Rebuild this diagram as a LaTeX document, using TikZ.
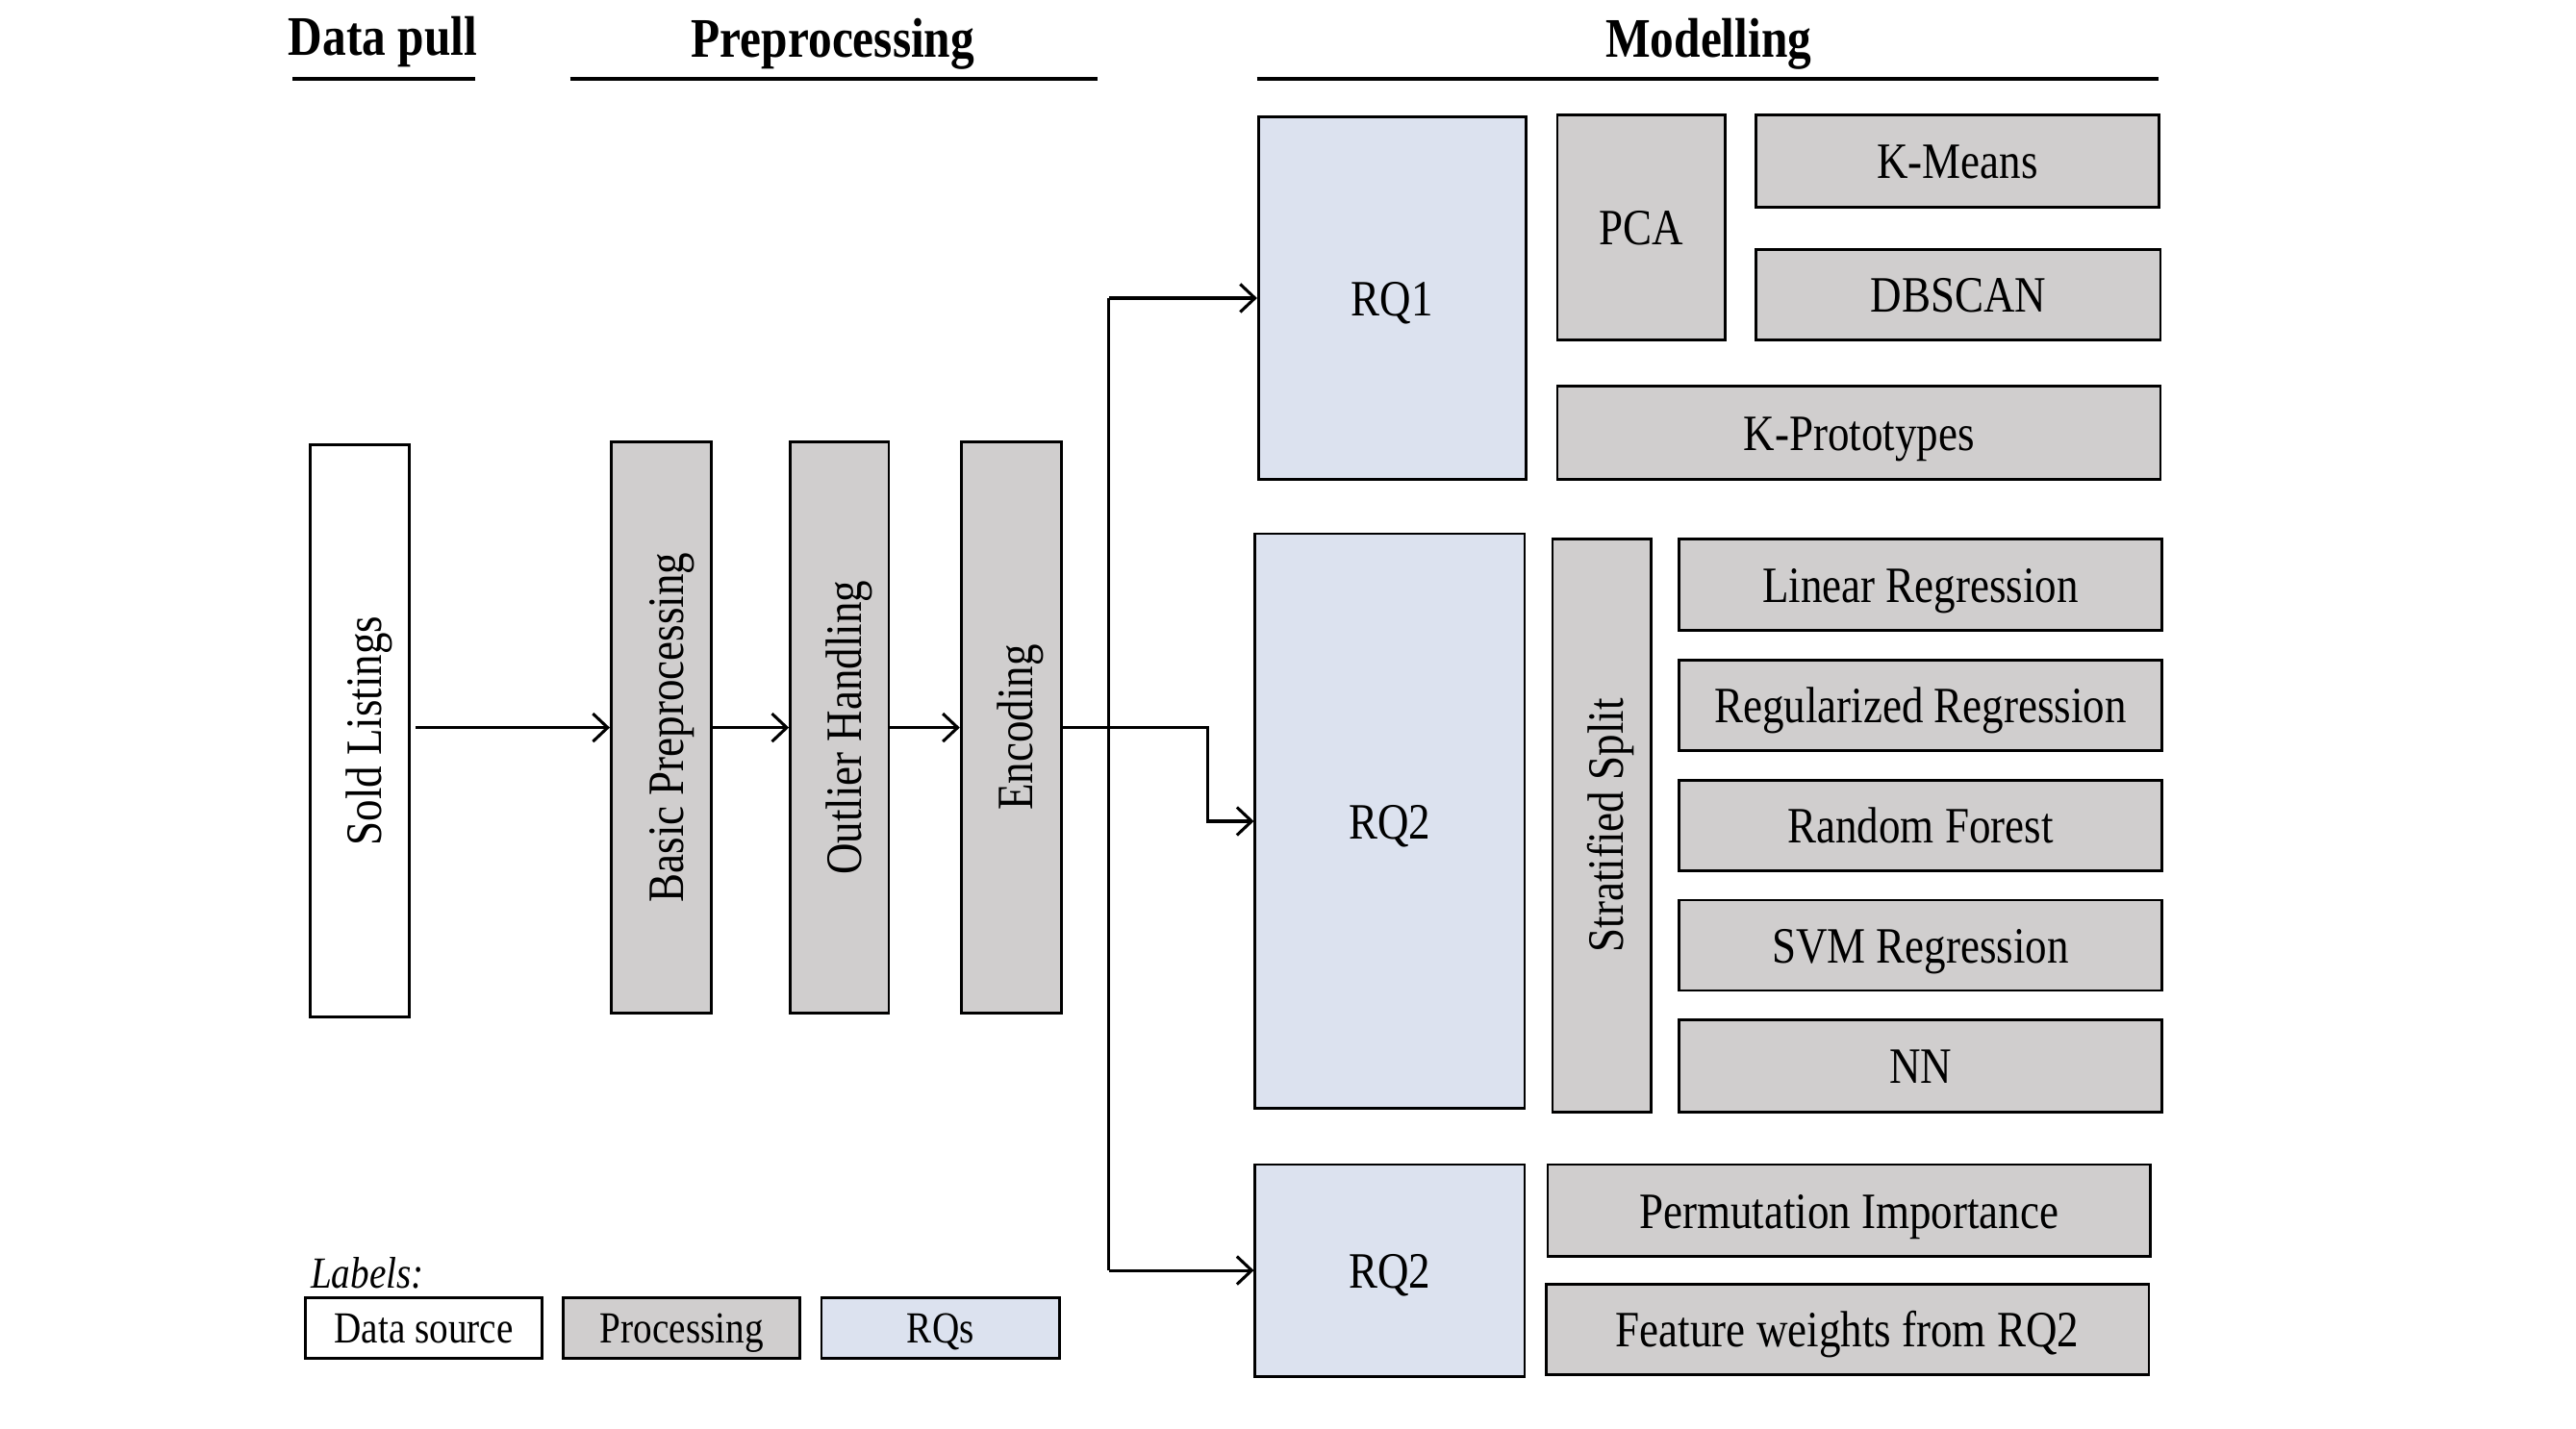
\documentclass[tikz,border=0pt]{standalone}
\usepackage{fontspec}
\setmainfont{Liberation Serif}
\newfontfamily\condfont[FakeStretch=0.85]{Liberation Serif}
\usetikzlibrary{arrows.meta}
\definecolor{procgray}{HTML}{D0CECE}
\definecolor{rqblue}{HTML}{DCE2EF}
\tikzset{
  box/.style={draw, line width=1.6pt, inner sep=0pt, align=center,
    font=\condfont\fontsize{31}{36}\selectfont, text height=21.5pt, text depth=0pt},
  vbox/.style={draw, line width=1.6pt, inner sep=0pt, align=center},
  gbox/.style={box, fill=procgray},
  bbox/.style={box, fill=rqblue},
  wbox/.style={box, fill=white},
  legbox/.style={box, font=\condfont\fontsize{27}{32}\selectfont, text height=18.7pt,
    minimum width=144pt, minimum height=37pt},
  title/.style={font=\condfont\bfseries\fontsize{34}{40}\selectfont, inner sep=0pt,
    text height=23.6pt, text depth=0pt},
  uline/.style={line width=2.6pt},
  conn/.style={line width=1.8pt},
  arr/.style={conn, -{Straight Barb[length=9pt,width=17pt]}},
}
\newcommand{\vtxt}[1]{\rotatebox{90}{\condfont\fontsize{31}{36}\selectfont\raisebox{0pt}[27.6pt][1pt]{#1}}}
\begin{document}
\begin{tikzpicture}[x=1pt,y=-1pt]
\useasboundingbox (0,0) rectangle (1568,870);

% titles
\node[title] (t1) at (233,22) {Data pull};
\node[title] (t2) at (507,23) {Preprocessing};
\node[title] (t3) at (1040,23) {Modelling};
\coordinate (u1a) at (178,48); \coordinate (u1b) at (289,48);
\coordinate (u2a) at (347,48); \coordinate (u2b) at (668,48);
\coordinate (u3a) at (765,48); \coordinate (u3b) at (1314,48);
\draw[uline] (u1a) -- (u1b);
\draw[uline] (u2a) -- (u2b);
\draw[uline] (u3a) -- (u3b);

% data + preprocessing
\node[vbox, fill=white, minimum width=60pt, minimum height=348pt] (sold) at (219,445) {\vtxt{Sold Listings}};
\node[vbox, fill=procgray, minimum width=61pt, minimum height=348pt] (bp) at (402.5,443) {\vtxt{Basic Preprocessing}};
\node[vbox, fill=procgray, minimum width=60pt, minimum height=348pt] (oh) at (511,443) {\vtxt{Outlier Handling}};
\node[vbox, fill=procgray, minimum width=61pt, minimum height=348pt] (enc) at (615.5,443) {\vtxt{Encoding}};

% RQ1 block
\node[bbox, minimum width=163pt, minimum height=221pt] (rq1) at (847.5,181.5) {RQ1};
\node[gbox, minimum width=102pt, minimum height=137pt] (pca) at (999,138.5) {PCA};
\node[gbox, minimum width=245pt, minimum height=56pt] (km) at (1191.5,98) {K-Means};
\node[gbox, minimum width=246pt, minimum height=55pt] (db) at (1192,179.5) {DBSCAN};
\node[gbox, minimum width=367pt, minimum height=57pt] (kp) at (1131.5,263.5) {K-Prototypes};

% RQ2 block
\node[bbox, minimum width=164pt, minimum height=350pt] (rq2) at (846,500) {RQ2};
\node[vbox, fill=procgray, minimum width=60pt, minimum height=349pt] (ss) at (975,502.5) {\vtxt{Stratified Split}};
\node[gbox, minimum width=294pt, minimum height=56pt] (lr) at (1169,356) {Linear Regression};
\node[gbox, minimum width=294pt, minimum height=55pt] (rr) at (1169,429.5) {Regularized Regression};
\node[gbox, minimum width=294pt, minimum height=55pt] (rf) at (1169,502.5) {Random Forest};
\node[gbox, minimum width=294pt, minimum height=55pt] (svm) at (1169,575.5) {SVM Regression};
\node[gbox, minimum width=294pt, minimum height=56pt] (nn) at (1169,649) {NN};

% RQ2 importance block
\node[bbox, minimum width=164pt, minimum height=129pt] (rq2b) at (846,773.5) {RQ2};
\node[gbox, minimum width=367pt, minimum height=56pt] (pi) at (1125.5,737) {Permutation Importance};
\node[gbox, minimum width=367pt, minimum height=55pt] (fw) at (1124.5,809.5) {Feature weights from RQ2};

% legend
\node[anchor=west, inner sep=0pt, font=\condfont\itshape\fontsize{27}{32}\selectfont,
  text height=18.7pt, text depth=0pt] (lab) at (189,775) {Labels:};
\node[legbox, fill=white] (lds) at (258,808.5) {Data source};
\node[legbox, fill=procgray] (lpr) at (415,808.5) {Processing};
\node[legbox, fill=rqblue, minimum width=145pt] (lrq) at (572.5,808.5) {RQs};

% connectors
\draw[arr, shorten <=3pt] (sold.east |- bp.west) -- (bp.west);
\draw[arr] (bp.east) -- (oh.west);
\draw[arr] (oh.east) -- (enc.west);
\coordinate (trTop) at (675,181.5);
\coordinate (trBot) at (675,773.5);
\coordinate (jog) at (735,443);
\draw[conn] (trTop) -- (trBot);
\draw[arr] (trTop) -- (rq1.west);
\draw[arr] (trBot) -- (rq2b.west);
\draw[arr] (enc.east) -- (jog) |- (rq2.west);
\end{tikzpicture}
\end{document}
